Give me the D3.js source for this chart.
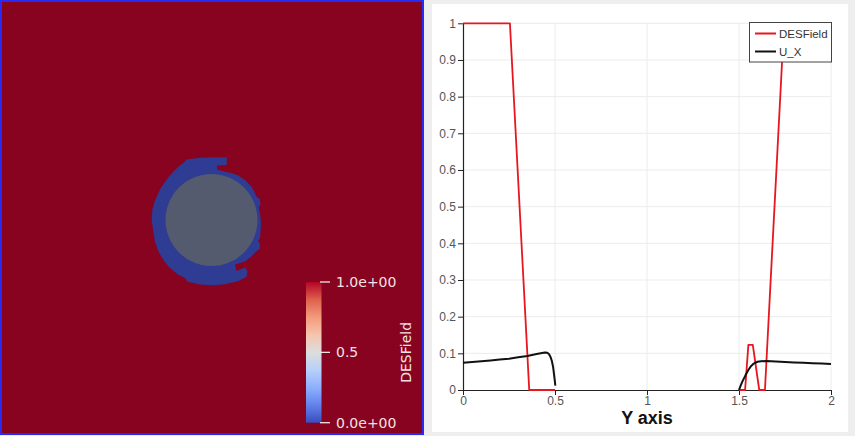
<!DOCTYPE html>
<html>
<head>
<meta charset="utf-8">
<script src="https://cdn.jsdelivr.net/npm/d3@7"></script>
<style>
  html, body { margin: 0; padding: 0; background: #eeeeee; }
  svg { display: block; }
</style>
</head>
<body>
<svg id="view" width="855" height="436"></svg>
<script>
// ---- Plot-over-line profile along Y (null = inside the solid body, no samples) ----
const desY   = [0, 0.255, 0.36, 0.5, null, 1.5, 1.533, 1.551, 1.575, 1.61, 1.641, 1.745, 2];
const desVal = [1, 1,     0,    0,   null, 0,   0,     0.123, 0.123, 0,    0,     1,     1];

const uxY   = [0, 0.05, 0.1, 0.15, 0.2, 0.25, 0.3, 0.35, 0.4, 0.43, 0.445, 0.458, 0.467, 0.475, 0.483, 0.49, 0.496, 0.502,
               null,
               1.5, 1.51, 1.52, 1.535, 1.55, 1.565, 1.58, 1.6, 1.62, 1.65, 1.7, 1.75, 1.8, 1.85, 1.9, 1.95, 2.0];
const uxVal = [0.0745, 0.0765, 0.0785, 0.0805, 0.083, 0.0855, 0.089, 0.093, 0.098, 0.101, 0.1025, 0.1015, 0.098, 0.091, 0.079, 0.062, 0.038, 0.012,
               null,
               0, 0.013, 0.025, 0.04, 0.054, 0.065, 0.072, 0.077, 0.0785, 0.079, 0.078, 0.0765, 0.075, 0.074, 0.073, 0.072, 0.071];

const seriesNames  = ["DESField", "U_X"];
const seriesColors = ["#e8161e", "#111111"];

const xTicks = [0, 0.5, 1, 1.5, 2];
const xTickLabels = ["0", "0.5", "1", "1.5", "2"];
const yTicks = [0, 0.1, 0.2, 0.3, 0.4, 0.5, 0.6, 0.7, 0.8, 0.9, 1];
const yTickLabels = ["0", "0.1", "0.2", "0.3", "0.4", "0.5", "0.6", "0.7", "0.8", "0.9", "1"];
const xTitle = "Y axis";

// ---- Render view: DESField < 0.5 region around the cylinder (physical X,Y) ----
const bodyX = [-0.293, -0.272, -0.125, 0.038, 0.168, 0.163, 0.060, 0.060, 0.158, 0.225, 0.291, 0.370, 0.437, 0.466, 0.491,
               0.522, 0.533, 0.514, 0.533, 0.538, 0.527, 0.505, 0.527, 0.522, 0.489, 0.440, 0.364, 0.255, 0.272, 0.364,
               0.391, 0.380, 0.291, 0.147, 0.016, -0.125, -0.266, -0.288, -0.361, -0.416, -0.470, -0.530, -0.578, -0.615,
               -0.633, -0.650, -0.643, -0.624, -0.596, -0.557, -0.505, -0.454, -0.397, -0.348];
const bodyY = [1.630, 1.658, 1.676, 1.682, 1.679, 1.598, 1.592, 1.549, 1.522, 1.507, 1.484, 1.428, 1.359, 1.305, 1.250,
               1.234, 1.168, 1.141, 1.036, 0.946, 0.804, 0.772, 0.745, 0.679, 0.663, 0.609, 0.549, 0.516, 0.446, 0.484,
               0.446, 0.380, 0.337, 0.301, 0.290, 0.299, 0.332, 0.370, 0.405, 0.448, 0.497, 0.575, 0.660, 0.766,
               0.877, 1.000, 1.109, 1.183, 1.253, 1.337, 1.416, 1.483, 1.543, 1.590];
const cylCenter = [0, 1];
const cylRadius = 0.5;

// Cool to Warm colour map
const cmapPos = [0, 0.125, 0.25, 0.375, 0.5, 0.625, 0.75, 0.875, 1];
const cmapRGB = ["#3b4cc0", "#6282ea", "#8db0fe", "#b8d0f9", "#dddddd", "#f5c4ad", "#f49a7b", "#de604d", "#b40426"];
const barTicks = [0, 0.5, 1];
const barTickLabels = ["0.0e+00", "0.5", "1.0e+00"];
const barTitle = "DESField";

const svg = d3.select("#view");

// ================= left: render view =================
const render = svg.append("g");
render.append("rect")
  .attr("x", 1).attr("y", 1).attr("width", 422).attr("height", 433)
  .attr("fill", "#88031f").attr("stroke", "#2a2af2").attr("stroke-width", 2);

const vx = d3.scaleLinear().domain([-209.5 / 92, 210.5 / 92]).range([2, 422]);
const vy = d3.scaleLinear().domain([1 - 213 / 92, 1 + 218 / 92]).range([433, 2]);

const bodyPts = bodyX.map((x, i) => [x, bodyY[i]]);
render.append("path")
  .attr("d", d3.line().x(d => vx(d[0])).y(d => vy(d[1])).curve(d3.curveLinearClosed)(bodyPts))
  .attr("fill", "#2e3c93");

render.append("circle")
  .attr("cx", vx(cylCenter[0])).attr("cy", vy(cylCenter[1]))
  .attr("r", vx(cylRadius) - vx(0))
  .attr("fill", "#545b6f");

// colour legend
const defs = svg.append("defs");
const grad = defs.append("linearGradient").attr("id", "coolwarm")
  .attr("x1", 0).attr("y1", 1).attr("x2", 0).attr("y2", 0);
cmapPos.forEach((p, i) => grad.append("stop").attr("offset", p).attr("stop-color", cmapRGB[i]));

const cb = d3.scaleLinear().domain([0, 1]).range([422.7, 282]);
render.append("rect")
  .attr("x", 306).attr("y", cb(1)).attr("width", 15.5).attr("height", cb(0) - cb(1))
  .attr("fill", "url(#coolwarm)");

const cbTick = render.selectAll(".cbtick").data(barTicks).enter().append("g")
  .attr("transform", d => `translate(0,${cb(d)})`);
cbTick.append("line").attr("x1", 320).attr("x2", 330).attr("stroke", "#f2e4e6").attr("stroke-width", 1.3);
cbTick.append("text")
  .attr("x", 336).attr("dy", "0.36em")
  .attr("font-family", "DejaVu Sans, sans-serif").attr("font-size", 14)
  .attr("fill", "#f2e2e5")
  .text((d, i) => barTickLabels[i]);

render.append("text")
  .attr("transform", `translate(411,${cb(0.5)}) rotate(-90)`)
  .attr("text-anchor", "middle")
  .attr("font-family", "DejaVu Sans, sans-serif").attr("font-size", 14)
  .attr("fill", "#f2e2e5")
  .text(barTitle);

// ================= right: line chart =================
svg.append("rect").attr("x", 432).attr("y", 4).attr("width", 416).attr("height", 428).attr("fill", "#ffffff");

const x = d3.scaleLinear().domain([0, 2]).range([463, 831]);
const y = d3.scaleLinear().domain([0, 1]).range([390, 23.3]);
const chart = svg.append("g");

// grid
chart.selectAll(".hg").data(yTicks.filter(t => t > 0)).enter().append("line")
  .attr("x1", x(0)).attr("x2", x(2)).attr("y1", d => y(d)).attr("y2", d => y(d))
  .attr("stroke", "#ececec").attr("stroke-width", 1);
chart.selectAll(".vg").data(xTicks.filter(t => t > 0)).enter().append("line")
  .attr("x1", d => x(d)).attr("x2", d => x(d)).attr("y1", y(0)).attr("y2", y(1))
  .attr("stroke", "#ececec").attr("stroke-width", 1);

// axes (under the series, so zero-valued segments stay visible)
const yAxis = d3.axisLeft(y).tickValues(yTicks).tickFormat((d, i) => yTickLabels[i])
  .tickSize(5).tickSizeOuter(0).tickPadding(2);
const xAxis = d3.axisBottom(x).tickValues(xTicks).tickFormat((d, i) => xTickLabels[i])
  .tickSize(5).tickSizeOuter(0).tickPadding(1);

const gy = chart.append("g").attr("transform", `translate(${x(0)},0)`).call(yAxis);
const gx = chart.append("g").attr("transform", `translate(0,${y(0)})`).call(xAxis);
[gx, gy].forEach(g => {
  g.select(".domain").attr("stroke", "#222").attr("stroke-width", 1.2);
  g.selectAll(".tick line").attr("stroke", "#222");
  g.selectAll(".tick text").attr("fill", "#555").attr("font-size", 12)
    .attr("font-family", "Liberation Sans, Arial, sans-serif");
});

// series
const line = d3.line().defined(d => d[0] !== null && d[1] !== null)
  .x(d => x(d[0])).y(d => y(d[1]));
const desPts = desY.map((v, i) => [v, desVal[i]]);
const uxPts = uxY.map((v, i) => [v, uxVal[i]]);

chart.append("path").attr("d", line(desPts)).attr("fill", "none")
  .attr("stroke", seriesColors[0]).attr("stroke-width", 1.8).attr("stroke-linejoin", "round");
chart.append("path").attr("d", line(uxPts)).attr("fill", "none")
  .attr("stroke", seriesColors[1]).attr("stroke-width", 2).attr("stroke-linejoin", "round");

chart.append("text")
  .attr("x", x(1)).attr("y", 424)
  .attr("text-anchor", "middle")
  .attr("font-family", "Liberation Sans, Arial, sans-serif")
  .attr("font-weight", "bold").attr("font-size", 18)
  .attr("fill", "#111")
  .text(xTitle);

// legend
const lg = chart.append("g");
lg.append("rect").attr("x", 749.5).attr("y", 22.5).attr("width", 82).attr("height", 39.5)
  .attr("fill", "#ffffff").attr("stroke", "#444").attr("stroke-width", 1);
seriesNames.forEach((name, i) => {
  const yy = 33.5 + i * 18;
  lg.append("line").attr("x1", 755).attr("x2", 776).attr("y1", yy).attr("y2", yy)
    .attr("stroke", seriesColors[i]).attr("stroke-width", 2);
  lg.append("text").attr("x", 779).attr("y", yy).attr("dy", "0.36em")
    .attr("font-family", "Liberation Sans, Arial, sans-serif").attr("font-size", 11.5)
    .attr("fill", "#333").text(name);
});
</script>
</body>
</html>
